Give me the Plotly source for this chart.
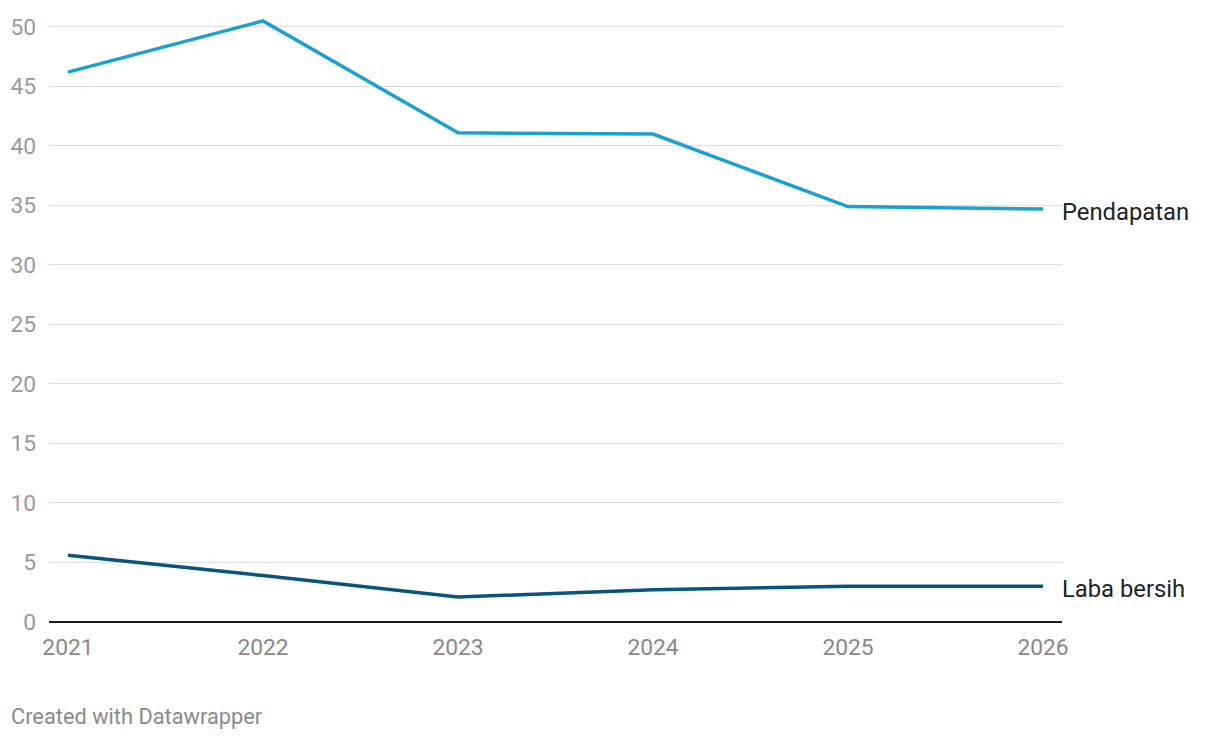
import plotly.graph_objects as go

years = [2021, 2022, 2023, 2024, 2025, 2026]
pendapatan = [46.2, 50.5, 41.1, 41.0, 34.9, 34.7]
laba_bersih = [5.6, 3.9, 2.1, 2.7, 3.0, 3.0]
y_ticks = [0, 5, 10, 15, 20, 25, 30, 35, 40, 45, 50]

series = [
    ("Pendapatan", pendapatan, "#1ba1cf"),
    ("Laba bersih", laba_bersih, "#07557f"),
]

fig = go.Figure()
for name, vals, color in series:
    fig.add_trace(go.Scatter(
        x=years, y=vals, name=name, mode="lines",
        line=dict(color=color, width=3.5),
        hoverinfo="skip",
    ))

annots = []
for name, vals, color in series:
    annots.append(dict(
        text=name, xref="paper", x=1, xanchor="left", xshift=-2,
        yref="y", y=vals[-1], yanchor="middle", yshift=-3,
        showarrow=False, font=dict(size=23.8, color="#222222"),
    ))
annots.append(dict(
    text="Created with Datawrapper", xref="paper", yref="paper",
    x=0, xanchor="left", xshift=-40, y=0, yanchor="top", yshift=-80,
    showarrow=False, font=dict(size=21.8, color="#8a8a8a"),
))

# page body has an 8px margin, so the figure is sized and offset for it
fig.update_layout(
    width=1212, height=730,
    margin=dict(l=41, r=158, t=7, b=116, autoexpand=False),
    plot_bgcolor="white", paper_bgcolor="white",
    showlegend=False,
    font=dict(family="Roboto, sans-serif"),
    annotations=annots,
    xaxis=dict(
        range=[2020.9026, 2026.0974], automargin=False,
        tickvals=years, ticktext=[str(y) for y in years],
        showgrid=False, zeroline=False, showline=False,
        ticks="", ticklabelstandoff=9,
        tickfont=dict(size=22.8, color="#888888"),
    ),
    yaxis=dict(
        range=[0, 51], tickvals=y_ticks, automargin=False,
        showgrid=True, gridcolor="#e0e0e0", gridwidth=1,
        zeroline=True, zerolinecolor="#1a1a1a", zerolinewidth=2,
        showline=False, ticks="", ticklabelstandoff=12,
        tickfont=dict(size=22.8, color="#9a9a9a"),
    ),
)

fig.write_html("out.html")
